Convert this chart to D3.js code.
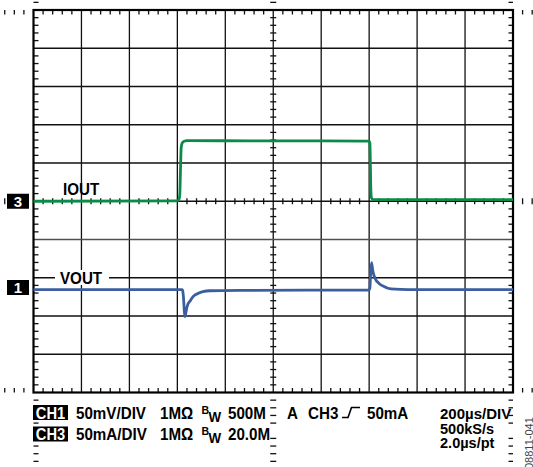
<!DOCTYPE html>
<html>
<head>
<meta charset="utf-8">
<script src="https://cdn.jsdelivr.net/npm/d3@7"></script>
<style>
  html, body { margin: 0; padding: 0; background: #fff; }
  svg { display: block; }
  text { font-family: "Liberation Sans", Arial, Helvetica, sans-serif; }
</style>
</head>
<body>
<svg id="chart" width="533" height="467"></svg>
<script>
// Time axis: 10 divisions of 200 µs
const timeDomain = [0, 2000];
const divisions = d3.range(-5, 6);

// CH3: load current IOUT (mA), 50 mA/div
const ioutTime = [0, 598, 606, 610, 613, 616, 620, 628, 640, 900, 1400, 1403, 1405, 1407, 1410, 1416, 1430, 2000];
const ioutMA   = [0, 0.5, 2, 8, 40, 70, 76, 78.5, 79.2, 79, 78.6, 76, 50, 15, 4, 2.2, 2, 2];

// CH1: output voltage deviation VOUT (mV), 50 mV/div
const voutTime = [0, 620, 622, 626, 629, 632, 635, 638, 644, 653, 663, 674, 690, 707, 736, 861, 1399, 1403, 1406, 1410, 1415, 1424, 1445, 1462, 1478, 1508, 1560, 2000];
const voutMV   = [0, 0, -1, -12, -28, -35.3, -31, -26, -19, -15, -10, -7, -4.5, -2.6, -1.5, -1, -0.5, 2, 20, 35.3, 25, 15, 7, 4, 1.8, 0.5, 0, 0];

// Channel settings
const ch3Scale = 50, ch3Offset = 0;        // mA/div, div
const ch1Scale = 50, ch1Offset = -2.31;    // mV/div, div

const statusRow1 = ["50mV/DIV", "1MΩ", "500M"];
const statusRow2 = ["50mA/DIV", "1MΩ", "20.0M"];
const timebase = ["200µs/DIV", "500kS/s", "2.0µs/pt"];

const svg = d3.select("#chart");
const L = 33.5, R = 513, T = 10, B = 392.5;

const x = d3.scaleLinear().domain(timeDomain).range([L, R]);
const xDiv = d3.scaleLinear().domain([-5, 5]).range([L, R]);
const yDiv = d3.scaleLinear().domain([-5, 5]).range([B, T]);

svg.append("rect").attr("width", 533).attr("height", 467).attr("fill", "#fff");

// Graticule
const grid = svg.append("g");
grid.selectAll(".vg").data(divisions.slice(1, -1)).join("line")
  .attr("x1", d => xDiv(d)).attr("x2", d => xDiv(d))
  .attr("y1", T).attr("y2", B)
  .attr("stroke", "#111").attr("stroke-width", 1.3);
grid.selectAll(".hg").data(divisions.slice(1, -1)).join("line")
  .attr("y1", d => yDiv(d)).attr("y2", d => yDiv(d))
  .attr("x1", L).attr("x2", R)
  .attr("stroke", d => d === -1 ? "#505050" : "#111").attr("stroke-width", 1.3);

// Minor ticks (5 per division)
const minorX = d3.range(-50, 51).map(d => d / 5).filter(d => Math.abs(d % 1) > 1e-6);
const minorY = minorX;
const tick = (x1, y1, x2, y2) => grid.append("line")
  .attr("x1", x1).attr("y1", y1).attr("x2", x2).attr("y2", y2)
  .attr("stroke", "#111").attr("stroke-width", 1.3);
minorX.forEach(d => {
  const px = xDiv(d);
  tick(px, T, px, T + 4.5);
  tick(px, B, px, B - 4.5);
  tick(px, yDiv(0) - 3, px, yDiv(0) + 3);
});
minorY.forEach(d => {
  const py = yDiv(d);
  tick(L, py, L + 5, py);
  tick(R, py, R - 4.5, py);
  tick(xDiv(0) - 3, py, xDiv(0) + 3, py);
});

// Frame
svg.append("rect").attr("x", L).attr("y", T).attr("width", R - L).attr("height", B - T)
  .attr("fill", "none").attr("stroke", "#000").attr("stroke-width", 2.2);

// Text helper: bold, slightly condensed
function label(g, px, py, str, opt = {}) {
  return g.append("text")
    .attr("transform", `translate(${px},${py}) scale(${opt.sx || 0.92},1)`)
    .attr("font-size", opt.size || 16.5)
    .attr("font-weight", opt.weight || "bold")
    .attr("fill", opt.fill || "#000")
    .attr("text-anchor", opt.anchor || "start")
    .text(str);
}

// VOUT label knocks out the gridline behind it
svg.append("rect").attr("x", 55).attr("y", 270).attr("width", 54).attr("height", 15).attr("fill", "#fff");
label(svg, 60, 283.5, "VOUT");
label(svg, 63, 195, "IOUT");

// Traces
const ioutLine = d3.line()
  .x((d, i) => x(ioutTime[i]))
  .y(d => yDiv(d / ch3Scale + ch3Offset))
  .curve(d3.curveMonotoneX);
const voutLine = d3.line()
  .x((d, i) => x(voutTime[i]))
  .y(d => yDiv(d / ch1Scale + ch1Offset))
  .curve(d3.curveMonotoneX);

svg.append("path").attr("d", ioutLine(ioutMA))
  .attr("fill", "none").attr("stroke", "#0b8a48").attr("stroke-width", 2.8)
  .attr("stroke-linejoin", "round");
svg.append("path").attr("d", voutLine(voutMV))
  .attr("fill", "none").attr("stroke", "#3a5e9e").attr("stroke-width", 2.8)
  .attr("stroke-linejoin", "round");

// Channel reference markers
function marker(cy, str) {
  svg.append("rect").attr("x", 7).attr("y", cy - 7.5).attr("width", 22).attr("height", 15).attr("fill", "#000");
  label(svg, 18, cy + 5.5, str, { anchor: "middle", fill: "#fff", size: 15, sx: 1 });
}
marker(yDiv(ch3Offset), "3");
marker(287.5, "1");

// Status lines
const status = svg.append("g");
function chBox(y0, str) {
  status.append("rect").attr("x", 33).attr("y", y0).attr("width", 35).attr("height", 15).attr("fill", "#000");
  label(status, 50.5, y0 + 13.5, str, { anchor: "middle", fill: "#fff", size: 16 });
}
chBox(405, "CH1");
chBox(426.5, "CH3");

[[419, statusRow1], [439.5, statusRow2]].forEach(([by, row]) => {
  label(status, 76, by, row[0]);
  label(status, 160, by, row[1]);
  label(status, 201.5, by - 5, "B", { size: 11.5 });
  label(status, 208.5, by + 3, "W", { size: 14.5 });
  label(status, 228, by, row[2]);
});

label(status, 287, 419, "A");
label(status, 308, 419, "CH3");
status.append("path").attr("d", "M342,417.5 L348,417.5 L351.5,407.5 L360,407.5")
  .attr("fill", "none").attr("stroke", "#000").attr("stroke-width", 1.6);
label(status, 367, 419, "50mA");

// Timebase block: slightly smaller, tighter rows
label(status, 440, 419, timebase[0], { size: 15.5, sx: 0.97 });
label(status, 440, 433.5, timebase[1], { size: 15, sx: 0.97 });
label(status, 440, 448, timebase[2], { size: 15, sx: 0.97 });

svg.append("text")
  .attr("transform", "translate(533,469) rotate(-90)")
  .attr("font-size", 11).attr("fill", "#444")
  .text("08811-041");
</script>
</body>
</html>
